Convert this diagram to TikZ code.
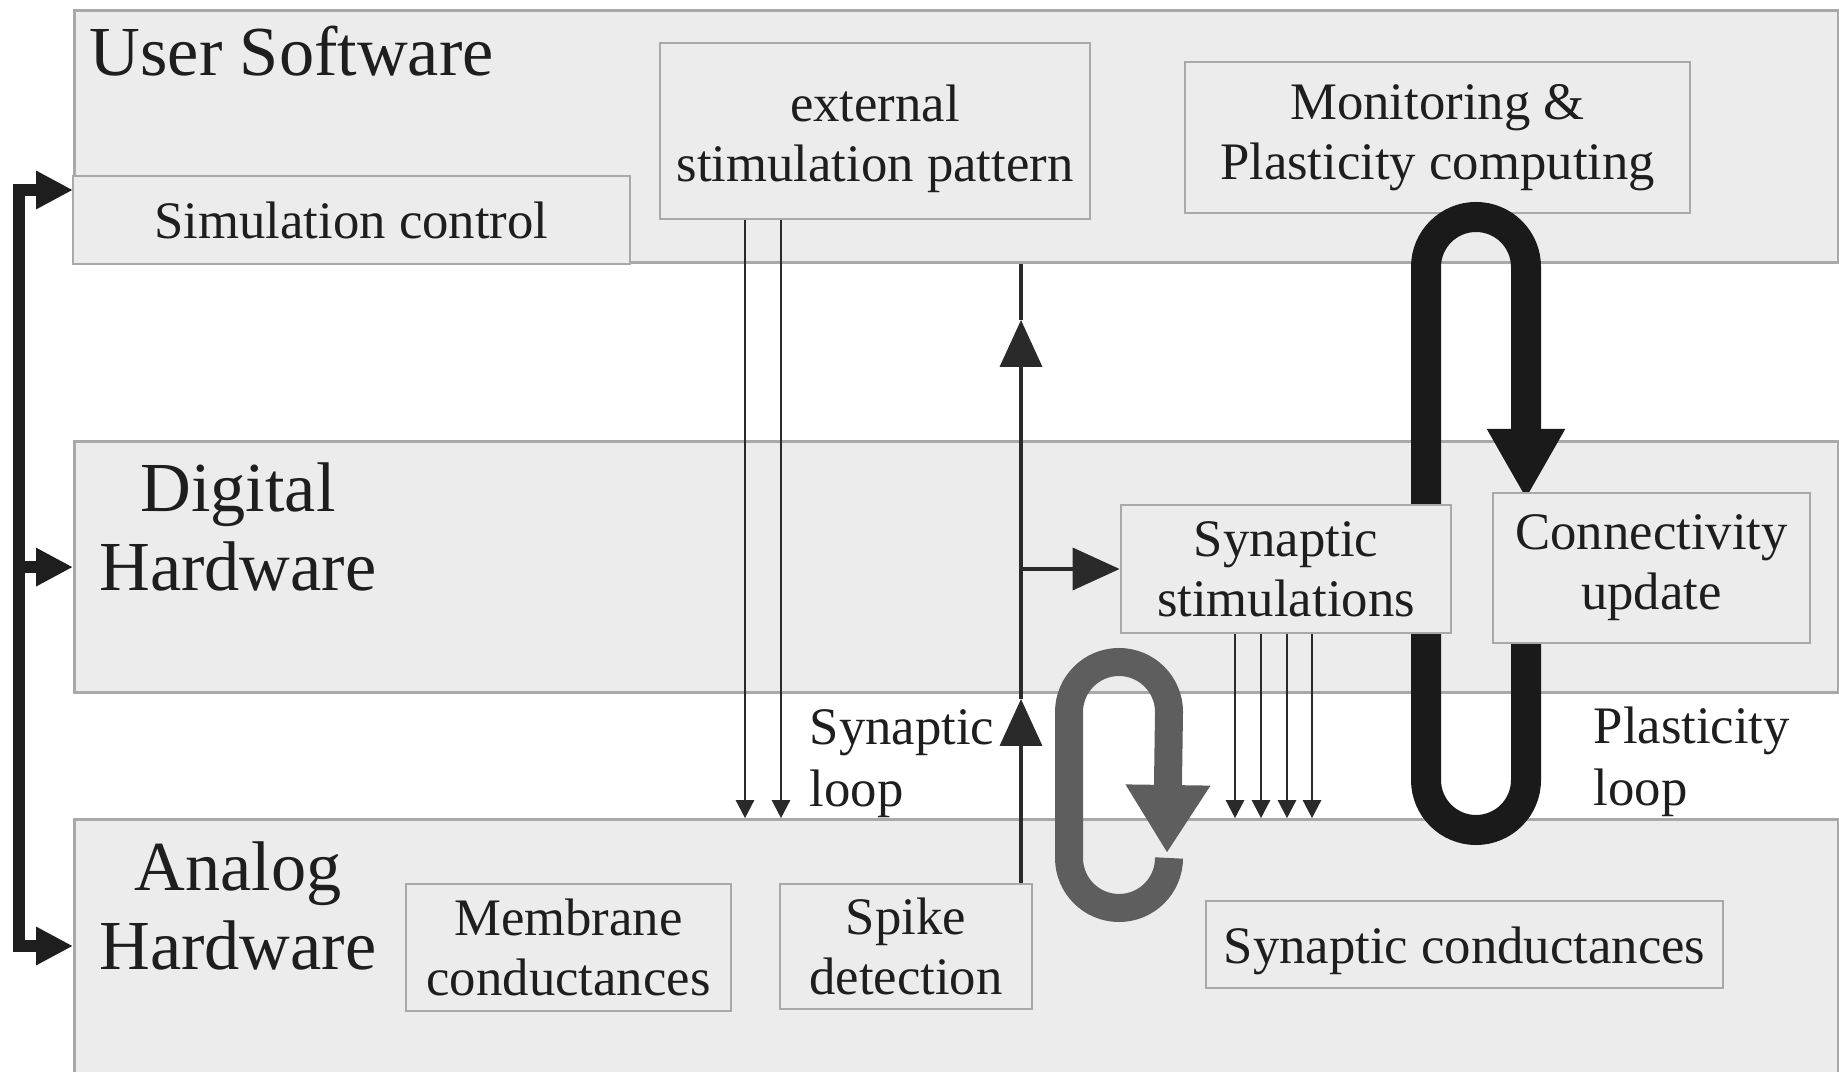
\documentclass[tikz,border=0pt]{standalone}
\usepackage{fontspec}
\setmainfont{Liberation Serif}
\usetikzlibrary{arrows.meta}

\definecolor{bandfill}{HTML}{ECECEC}
\definecolor{bandline}{HTML}{A9A9A9}
\definecolor{ink}{HTML}{1E1E1E}
\definecolor{wire}{HTML}{2A2A2A}
\definecolor{synloop}{HTML}{5E5E5E}
\definecolor{plastloop}{HTML}{1A1A1A}

\tikzset{
  band/.style={draw=bandline, fill=bandfill, line width=0.8pt, anchor=south west,
    minimum width=17.64cm, inner sep=0pt},
  box/.style={draw=bandline, fill=bandfill, line width=0.8pt, align=center,
    inner sep=0pt, text=ink, font=\fontsize{15}{17}\selectfont},
  layertitle/.style={align=center, inner sep=0pt, text=ink,
    font=\fontsize{20}{22.5}\selectfont},
  looplabel/.style={align=left, inner sep=0pt, anchor=west, text=ink,
    font=\fontsize{15}{17.6}\selectfont},
  feed/.style={draw=wire, line width=0.7pt, -{Triangle[length=0.18cm, width=0.18cm]}},
  signal/.style={draw=wire, line width=1.1pt},
  bigtip/.style={-{Triangle[length=0.47cm, width=0.42cm]}},
  bracket/.style={draw=ink, line width=0.12cm},
}

\begin{document}
\begin{tikzpicture}
    \useasboundingbox (0, 0) rectangle (18.39, 10.71);

    % the three layers
    \node[band, minimum height=2.52cm] (user) at (0.73, 8.07) {};
    \node[band, minimum height=2.51cm] (digital) at (0.73, 3.77) {};
    \node[band, minimum height=2.70cm] (analog) at (0.73, -0.20) {};

    \node[layertitle, anchor=base west] (usertitle) at (0.89, 9.95) {User Software};
    \node[layertitle] (digitaltitle) at (2.38, 5.44) {Digital\\Hardware};
    \node[layertitle] (analogtitle) at (2.38, 1.65) {Analog\\Hardware};

    % user software boxes
    \node[box, minimum width=5.57cm, minimum height=0.88cm] (simctrl) at (3.515, 8.51)
      {Simulation control};
    \node[box, minimum width=4.30cm, minimum height=1.76cm] (extstim) at (8.75, 9.40)
      {\rule{0pt}{0.52cm}external\\stimulation pattern};
    \node[box, minimum width=5.05cm, minimum height=1.51cm] (monitor) at (14.375, 9.335)
      {Monitoring \&\\Plasticity computing};

    % loops
    \coordinate (synR) at (11.69, 2.13);
    \coordinate (plastR) at (15.26, 2.91);
    \draw[synloop, line width=0.28cm, -{Triangle[length=0.68cm, width=0.80cm]}]
      (synR) arc[start angle=0, end angle=-180, radius=0.5cm]
      -- (10.69, 3.59) arc[start angle=180, end angle=0, radius=0.5cm]
      -- (11.67, 2.18);
    \draw[plastloop, line width=0.30cm, -{Triangle[length=0.70cm, width=0.73cm]}]
      (15.26, 4.60) -- (plastR) arc[start angle=0, end angle=-180, radius=0.5cm]
      -- (14.26, 8.04) arc[start angle=180, end angle=0, radius=0.5cm]
      -- (15.26, 5.72);

    % digital and analog boxes
    \node[box, minimum width=3.30cm, minimum height=1.28cm] (synstim) at (12.86, 5.02)
      {Synaptic\\stimulations};
    \node[box, minimum width=3.17cm, minimum height=1.50cm] (connect) at (16.515, 5.03)
      {Connectivity\\update};
    \node[box, minimum width=3.25cm, minimum height=1.27cm] (membrane) at (5.685, 1.235)
      {Membrane\\conductances};
    \node[box, minimum width=2.52cm, minimum height=1.25cm] (spike) at (9.06, 1.245)
      {Spike\\detection};
    \node[box, minimum width=5.17cm, minimum height=0.87cm, text height=0.50cm] (syncond)
      at (14.645, 1.265) {Synaptic conductances};

    \node[looplabel] (synlabel) at (8.09, 3.07) {Synaptic\\loop};
    \node[looplabel] (plastlabel) at (15.93, 3.09) {Plasticity\\loop};

    % control of all layers
    \coordinate (brtop) at (0.19, 8.81);
    \coordinate (brbot) at (0.19, 1.25);
    \draw[bracket, {Triangle[length=0.37cm, width=0.36cm]}-{Triangle[length=0.37cm, width=0.36cm]}]
      (analog.west |- brbot) -- (brbot) -- (brtop) -- (user.west |- brtop);
    \draw[bracket, -{Triangle[length=0.37cm, width=0.36cm]}]
      (brtop |- digital.west) -- (digital.west);

    % stimulation into the analog hardware
    \foreach \dx in {-1.30, -0.94} {
      \draw[feed] ([xshift=\dx cm]extstim.south) -- ([xshift=\dx cm]extstim.south |- analog.north);
    }
    \foreach \dx in {-0.51, -0.25, 0.01, 0.26} {
      \draw[feed] ([xshift=\dx cm]synstim.south) -- ([xshift=\dx cm]synstim.south |- analog.north);
    }

    % spikes going up
    \coordinate (up) at ([xshift=1.15cm]spike.north);
    \coordinate (tipA) at (up |- 0, 3.72);
    \coordinate (tipB) at (up |- 0, 7.51);
    \draw[signal, bigtip] (up) -- (tipA);
    \draw[signal, bigtip] (tipA) -- (tipB);
    \draw[signal] (tipB) -- (up |- user.south);
    \draw[signal, bigtip] (up |- synstim.west) -- (synstim.west);
  \end{tikzpicture}
\end{document}
